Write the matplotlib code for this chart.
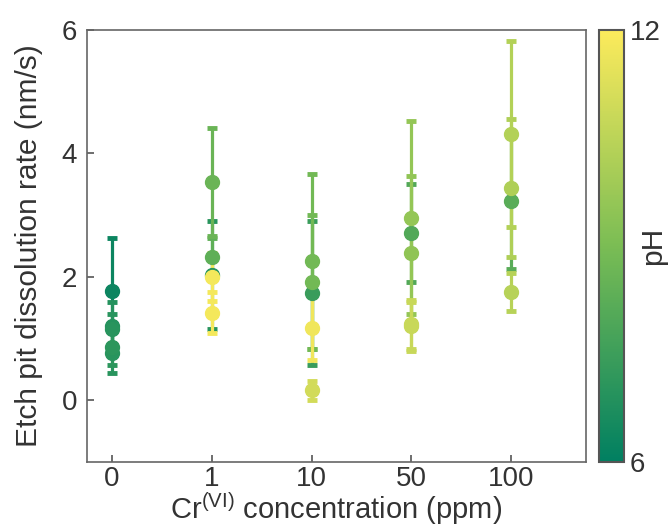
import matplotlib
matplotlib.use("Agg")
import matplotlib.pyplot as plt
import numpy as np
from matplotlib.colors import LinearSegmentedColormap, Normalize
from matplotlib.cm import ScalarMappable

plt.rcParams['font.family'] = ['Liberation Sans', 'DejaVu Sans']

categories = ['0', '1', '10', '50', '100']

# each measurement: category index, rate, error, pH
point_cat = [0, 0, 0, 0, 0,
             1, 1, 1, 1, 1,
             2, 2, 2, 2, 2,
             3, 3, 3, 3, 3,
             4, 4, 4, 4]
point_rate = [1.77, 1.20, 1.15, 0.87, 0.77,
              3.54, 2.33, 2.03, 2.00, 1.42,
              2.25, 1.92, 1.74, 1.17, 0.16,
              2.96, 2.71, 2.39, 1.23, 1.20,
              4.32, 3.44, 3.23, 1.76]
point_err = [0.86, 0.40, 0.25, 0.30, 0.33,
             0.88, 0.30, 0.87, 0.39, 0.33,
             1.42, 1.09, 1.17, 0.52, 0.15,
             1.56, 0.79, 1.24, 0.40, 0.40,
             1.51, 1.12, 1.10, 0.31]
point_ph = [6.3, 6.9, 7.0, 7.1, 7.0,
            8.6, 8.3, 7.0, 11.8, 11.8,
            8.8, 8.8, 7.4, 11.7, 11.0,
            9.6, 8.0, 9.5, 10.8, 10.8,
            10.3, 10.2, 8.2, 10.4]

cmap = LinearSegmentedColormap.from_list(
    'ph', [(0.0, 0.50, 0.38), (0.48, 0.74, 0.33), (0.99, 0.92, 0.36)])
norm = Normalize(vmin=6, vmax=12)

fig = plt.figure(figsize=(6.7, 5.28), dpi=100)
ax = fig.add_axes([0.1299, 0.125, 0.7447, 0.818])
cax = fig.add_axes([0.894, 0.125, 0.0373, 0.818])

text_color = '#333333'
order = np.argsort(point_ph, kind='stable')
for i in order:
    c = cmap(norm(point_ph[i]))
    ax.errorbar(point_cat[i], point_rate[i], yerr=point_err[i], fmt='o',
                color=c, ms=10, elinewidth=2.3, capsize=3.5, capthick=3.5,
                mec=c, mfc=c)

ax.set_xlim(-0.25, 4.75)
ax.set_ylim(-1, 6)
ax.set_xticks(range(len(categories)))
ax.set_xticklabels(categories)
ax.set_yticks([0, 2, 4, 6])
ax.tick_params(direction='in', length=5, width=1.2, colors='#555555',
               labelcolor=text_color, labelsize=20)
ax.tick_params(axis='x', pad=3)
ax.tick_params(axis='y', pad=7)
for s in ax.spines.values():
    s.set_color('#666666')
    s.set_linewidth(1.2)
ax.set_xlabel('Cr$^{\\mathregular{(VI)}}$ concentration (ppm)', fontsize=21,
              color=text_color, va='baseline')
ax.set_ylabel('Etch pit dissolution rate (nm/s)', fontsize=21.5,
              color=text_color)
ax.xaxis.set_label_coords(0.5, -0.133)
ax.yaxis.set_label_coords(-0.088, 0.5)

cb = fig.colorbar(ScalarMappable(norm=norm, cmap=cmap), cax=cax)
cb.set_ticks([6, 12])
cb.ax.tick_params(length=0, labelsize=20, labelcolor=text_color, pad=4)
cb.outline.set_edgecolor('#555555')
cb.outline.set_linewidth(1.5)
cb.set_label('pH', fontsize=21.5, color=text_color, labelpad=-15)

fig.savefig('out.png', dpi=100)
